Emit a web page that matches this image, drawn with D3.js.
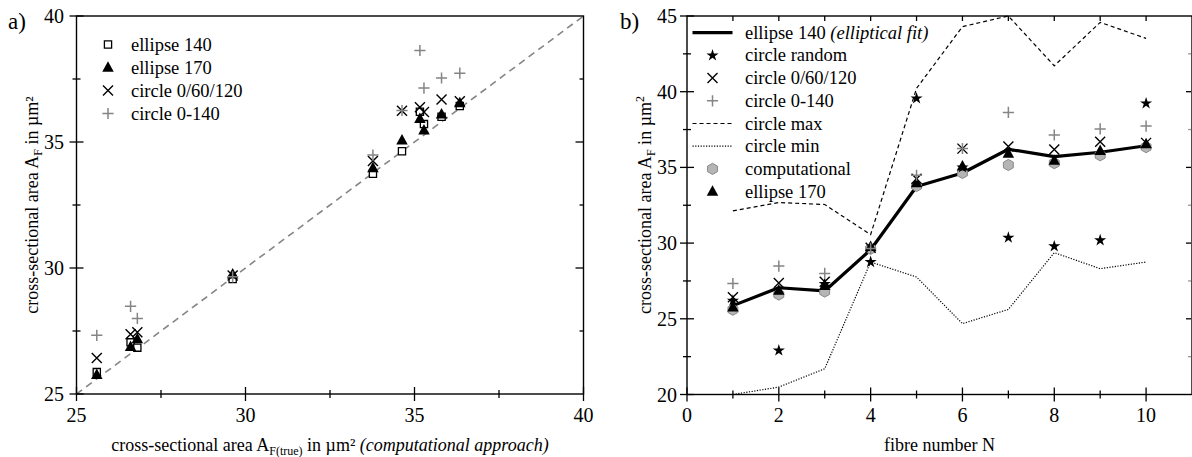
<!DOCTYPE html>
<html><head><meta charset="utf-8">
<script src="https://cdn.jsdelivr.net/npm/d3@7"></script>
<style>body{margin:0;background:#fff}svg{display:block}</style>
</head><body>
<svg id="c" width="1192" height="457"></svg>
<script>
// ---- data ----
const fibreN = [1,2,3,4,5,6,7,8,9,10];
const computational = [25.60,26.60,26.80,29.62,33.77,34.63,35.16,35.28,35.80,36.34];
const ellipse140   = [25.87,27.05,26.84,29.56,33.74,34.63,36.20,35.71,36.00,36.43];
const ellipse170   = [25.76,26.87,27.18,29.75,33.97,35.07,35.92,35.46,36.10,36.55];
const circle060120 = [26.43,27.37,27.45,29.70,34.25,36.24,36.38,36.19,36.69,36.62];
const circle0140   = [27.33,28.48,28.00,29.65,34.48,36.25,38.63,37.14,37.54,37.73];
const circleRandom = [26.20,22.91,27.30,28.75,39.56,35.00,30.36,29.79,30.19,39.23];
const circleMax    = [32.13,32.68,32.55,30.56,40.22,44.30,45.00,41.71,44.58,43.52];
const circleMin    = [20.00,20.49,21.70,28.75,27.76,24.68,25.62,29.37,28.31,28.75];

const leftMajor = [25,30,35,40];
const leftMinor = [27.5,32.5,37.5];
const rightXMajor = [0,2,4,6,8,10];
const rightXMinor = [1,3,5,7,9];
const rightTop = [1,2,3,4,5,6,7,8,9,10];
const rightYMajor = [20,25,30,35,40,45];
const rightYMinor = [22.5,27.5,32.5,37.5,42.5];

const FONT = "'Liberation Serif', 'DejaVu Serif', 'Times New Roman', serif";
const svg = d3.select("#c").attr("font-family", FONT).style("font-family", FONT);
const GRAY = "#858585";
const txt = (p) => p.append("text").style("font-family", FONT).attr("fill","#000");

// ---- marker shapes ----
const sq = s => `M${-s},${-s}H${s}V${s}H${-s}Z`;
const tri = (w,h) => `M0,${-h*0.6}L${w/2},${h*0.4}L${-w/2},${h*0.4}Z`;
const xs = s => `M${-s},${-s}L${s},${s}M${-s},${s}L${s},${-s}`;
const pl = s => `M${-s},0H${s}M0,${-s}V${s}`;
const hex = r => { let p=[]; for(let i=0;i<6;i++){const a=Math.PI/3*i - Math.PI/2; p.push([r*Math.cos(a), r*0.98*Math.sin(a)]);} return "M"+p.map(d=>d.join(",")).join("L")+"Z"; };
const star = d3.symbol(d3.symbolStar, 46)();

const M = {
  square:  g => g.append("path").attr("d", sq(3.6)).attr("fill","#fff").attr("stroke","#000").attr("stroke-width",1.3),
  tri:     g => g.append("path").attr("d", tri(11.5,10.5)).attr("fill","#000"),
  x:       g => g.append("path").attr("d", xs(5)).attr("fill","none").attr("stroke","#000").attr("stroke-width",1.4),
  plus:    g => g.append("path").attr("d", pl(5.6)).attr("fill","none").attr("stroke",GRAY).attr("stroke-width",1.5),
  star:    g => g.append("path").attr("d", star).attr("fill","#000"),
  hex:     g => g.append("path").attr("d", hex(5.7)).attr("fill","#b5b5b5").attr("stroke","#8a8a8a").attr("stroke-width",1)
};
function marks(parent, xv, yv, xS, yS, kind){
  const g = parent.append("g");
  const sel = g.selectAll("g").data(xv.map((d,i)=>[d,yv[i]])).join("g")
    .attr("transform", d=>`translate(${xS(d[0])},${yS(d[1])})`);
  sel.each(function(){ M[kind](d3.select(this)); });
}

function frame(X0, X1, Y0, Y1){
  svg.append("rect").attr("x",X0).attr("y",Y0).attr("width",X1-X0).attr("height",Y1-Y0)
    .attr("fill","none").attr("stroke","#000").attr("stroke-width",1.4);
}
function ticksV(vals, y, X, len1, len2, col){
  svg.append("g").selectAll("line").data(vals).join("line")
    .attr("x1",X-len1).attr("x2",X+len2).attr("y1",d=>y(d)).attr("y2",d=>y(d))
    .attr("stroke",col||"#000").attr("stroke-width",1.3);
}
function ticksH(vals, x, Y, len1, len2, col){
  svg.append("g").selectAll("line").data(vals).join("line")
    .attr("y1",Y-len1).attr("y2",Y+len2).attr("x1",d=>x(d)).attr("x2",d=>x(d))
    .attr("stroke",col||"#000").attr("stroke-width",1.3);
}
function tickLabels(vals, fx, fy, anchor){
  const g = svg.append("g");
  vals.forEach(v => txt(g).attr("x",fx(v)).attr("y",fy(v)).attr("text-anchor",anchor).attr("font-size",20).text(v));
}

// =================== LEFT PLOT ===================
const xL = d3.scaleLinear().domain([25,40]).range([76.5,583.5]);
const yL = d3.scaleLinear().domain([25,40]).range([394,16]);

svg.append("path").attr("d", d3.line().x(d=>xL(d)).y(d=>yL(d))([25,40]))
  .attr("stroke",GRAY).attr("stroke-width",1.6).attr("stroke-dasharray","7,5").attr("fill","none");

frame(76.5,583.5,16,394);
ticksH(leftMajor, xL, 394, 7, 7);
ticksH(leftMinor, xL, 394, 4, 4);
ticksV(leftMajor, yL, 76.5, 7, 7);
ticksV(leftMinor, yL, 76.5, 4, 4);
ticksV(leftMajor.slice(1,3), yL, 583.5, 8, 0);
ticksV(leftMinor, yL, 583.5, 4, 0);

tickLabels(leftMajor, v=>xL(v), v=>422, "middle");
tickLabels(leftMajor, v=>64, v=>yL(v)+7, "end");

marks(svg, computational, ellipse140, xL, yL, "square");
marks(svg, computational, ellipse170, xL, yL, "tri");
marks(svg, computational, circle060120, xL, yL, "x");
marks(svg, computational, circle0140, xL, yL, "plus");

const legL = [["ellipse 140","square"],["ellipse 170","tri"],["circle 0/60/120","x"],["circle 0-140","plus"]];
legL.forEach((d,i)=>{
  const yy = 44.5 + i*23;
  M[d[1]](svg.append("g").attr("transform",`translate(108,${yy})`));
  txt(svg).attr("x",131).attr("y",yy+6).attr("font-size",18.5).text(d[0]);
});

const xl = txt(svg).attr("x",330).attr("y",451).attr("text-anchor","middle").attr("font-size",18);
xl.append("tspan").text("cross-sectional area A");
xl.append("tspan").attr("font-size",12).attr("dy",4).text("F(true)");
xl.append("tspan").attr("dy",-4).text(" in µm² ");
xl.append("tspan").attr("font-style","italic").text("(computational approach)");

const yl = txt(svg).attr("transform","translate(38,205) rotate(-90)").attr("text-anchor","middle").attr("font-size",18);
yl.append("tspan").text("cross-sectional area A");
yl.append("tspan").attr("font-size",12).attr("dy",4).text("F");
yl.append("tspan").attr("dy",-4).text(" in µm²");

txt(svg).attr("x",8).attr("y",29).attr("font-size",23).text("a)");

// =================== RIGHT PLOT ===================
const xR = d3.scaleLinear().domain([0,11]).range([687,1192]);
const yR = d3.scaleLinear().domain([20,45]).range([394.5,16]);

frame(687,1192,16,394.5);
ticksH(rightXMajor, xR, 394.5, 7, 7);
ticksH(rightXMinor, xR, 394.5, 4, 4);
ticksH(rightTop, xR, 16, 0, 5);
ticksV(rightYMajor, yR, 687, 7, 7);
ticksV(rightYMinor, yR, 687, 4, 4);
ticksV(rightYMajor.slice(1,5), yR, 1191, 5, 0);
ticksV(rightYMinor, yR, 1191, 3, 0, "#999");

tickLabels(rightXMajor, v=>xR(v), v=>422, "middle");
tickLabels(rightYMajor, v=>677, v=>yR(v)+7, "end");

const lineR = v => d3.line().x((d,i)=>xR(fibreN[i])).y(d=>yR(d))(v);
svg.append("path").attr("d",lineR(circleMax)).attr("fill","none").attr("stroke","#000").attr("stroke-width",1.2).attr("stroke-dasharray","4,3");
svg.append("path").attr("d",lineR(circleMin)).attr("fill","none").attr("stroke","#000").attr("stroke-width",1.2).attr("stroke-dasharray","1.2,1.5");
svg.append("path").attr("d",lineR(ellipse140)).attr("fill","none").attr("stroke","#000").attr("stroke-width",3.2).attr("stroke-linejoin","round");

marks(svg, fibreN, computational, xR, yR, "hex");
marks(svg, fibreN, circleRandom, xR, yR, "star");
marks(svg, fibreN, ellipse170, xR, yR, "tri");
marks(svg, fibreN, circle060120, xR, yR, "x");
marks(svg, fibreN, circle0140, xR, yR, "plus");

const legR = [
  ["ellipse 140","line"],["circle random","star"],["circle 0/60/120","x"],["circle 0-140","plus"],
  ["circle max","dash"],["circle min","dot"],["computational","hex"],["ellipse 170","tri"]];
legR.forEach((d,i)=>{
  const yy = 32.7 + i*22.7;
  if(d[1]==="line"||d[1]==="dash"||d[1]==="dot"){
    const l = svg.append("line").attr("x1",692.5).attr("x2",732.5).attr("y1",yy).attr("y2",yy).attr("stroke","#000");
    if(d[1]==="line") l.attr("stroke-width",3.2);
    if(d[1]==="dash") l.attr("stroke-width",1.2).attr("stroke-dasharray","4,3");
    if(d[1]==="dot") l.attr("stroke-width",1.2).attr("stroke-dasharray","1.2,1.5");
  } else {
    M[d[1]](svg.append("g").attr("transform",`translate(712.5,${yy})`));
  }
  const t = txt(svg).attr("x",745).attr("y",yy+6).attr("font-size",18.5);
  t.append("tspan").text(d[0]);
  if(i===0) t.append("tspan").attr("font-style","italic").text(" (elliptical fit)");
});

txt(svg).attr("x",xR(5.5)).attr("y",451).attr("text-anchor","middle").attr("font-size",18).text("fibre number N");
const yr = txt(svg).attr("transform","translate(651,205) rotate(-90)").attr("text-anchor","middle").attr("font-size",18);
yr.append("tspan").text("cross-sectional area A");
yr.append("tspan").attr("font-size",12).attr("dy",4).text("F");
yr.append("tspan").attr("dy",-4).text(" in µm");
yr.append("tspan").attr("font-size",12).attr("dy",-7).text("2");

txt(svg).attr("x",620).attr("y",29).attr("font-size",23).text("b)");
</script>
</body></html>
